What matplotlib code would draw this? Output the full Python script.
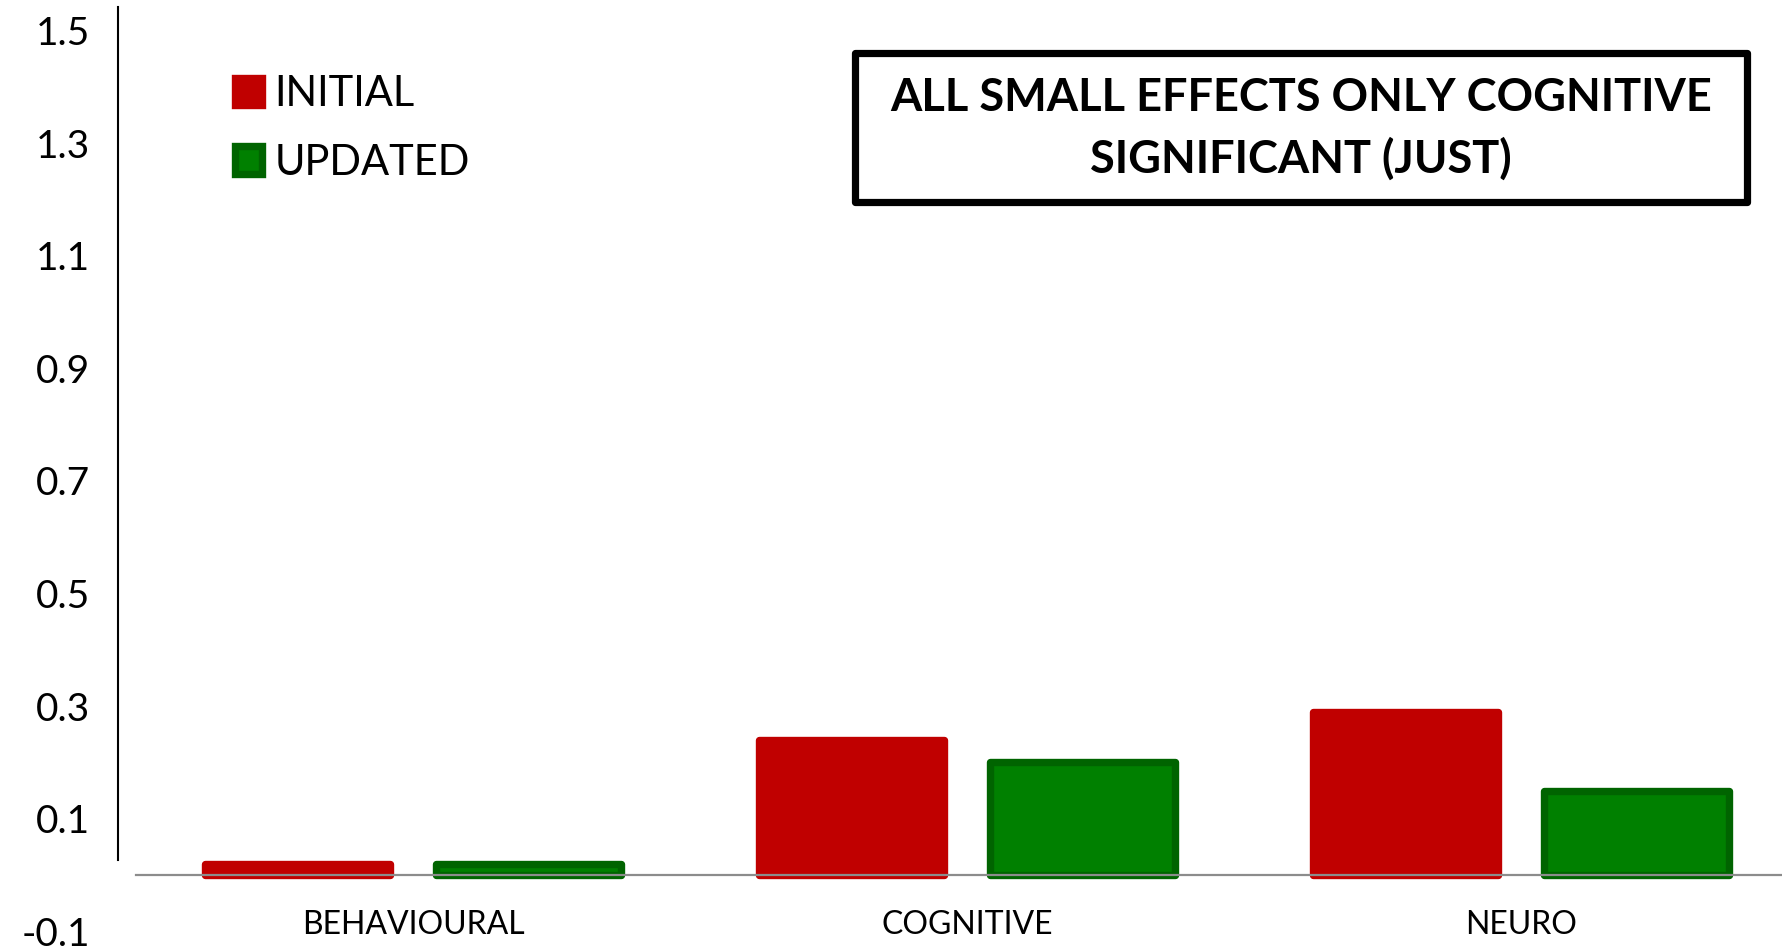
import matplotlib
matplotlib.use("Agg")
import matplotlib.pyplot as plt
import numpy as np
from matplotlib.patches import Patch, Rectangle

# --- Data ---
categories = ["BEHAVIOURAL", "COGNITIVE", "NEURO"]
initial = [0.02, 0.24, 0.29]
updated = [0.02, 0.20, 0.15]
series_labels = ["INITIAL", "UPDATED"]
ytick_values = [-0.1, 0.1, 0.3, 0.5, 0.7, 0.9, 1.1, 1.3, 1.5]
note_text = "ALL SMALL EFFECTS ONLY COGNITIVE\nSIGNIFICANT (JUST)"

plt.rcParams["font.family"] = ["Lato", "DejaVu Sans"]

RED = "#C00000"
GREEN = "#008000"
GREEN_EDGE = "#006400"
BAR_LW = 5.3

W, H = 1783, 949
fig = plt.figure(figsize=(W / 100, H / 100), dpi=100)
ax = fig.add_axes([136 / W, (H - 931.3) / H, 1662 / W, 929.0 / H])

x = np.arange(len(categories))
offset = 0.2085
width = 0.333
ax.bar(x - offset, initial, width, color=RED, edgecolor=RED,
       linewidth=BAR_LW, joinstyle="round")
ax.bar(x + offset, updated, width, color=GREEN, edgecolor=GREEN_EDGE,
       linewidth=BAR_LW, joinstyle="round")

ax.set_xlim(-0.5, 2.5)
ax.set_ylim(-0.1, 1.55)

# Axes styling
ax.spines["top"].set_visible(False)
ax.spines["right"].set_visible(False)
ax.spines["bottom"].set_position(("data", 0))
ax.spines["bottom"].set_color("#8C8C8C")
ax.spines["bottom"].set_linewidth(1.6)
ax.spines["left"].set_position(("outward", 13))
ax.spines["left"].set_bounds(0.027, 1.542)
ax.spines["left"].set_linewidth(1.5)

ax.set_yticks(ytick_values)
ax.set_yticklabels([f"{v:.1f}" for v in ytick_values])
ax.tick_params(axis="y", length=0, pad=20, labelsize=28)
ax.set_xticks(x)
ax.set_xticklabels(categories)
ax.tick_params(axis="x", length=0, pad=25, labelsize=23)

# Legend
handles = [
    Patch(facecolor=RED, edgecolor=RED, linewidth=BAR_LW, joinstyle="round"),
    Patch(facecolor=GREEN, edgecolor=GREEN_EDGE, linewidth=BAR_LW, joinstyle="round"),
]
fig.legend(handles, series_labels, loc="upper left",
           bbox_to_anchor=(235 / W, 1 - 75 / H), frameon=False,
           fontsize=30, handlelength=0.64, handleheight=0.64,
           handletextpad=0.3, labelspacing=0.74, borderpad=0,
           borderaxespad=0)

# Note box
box = Rectangle((855.5 / W, 1 - 201.5 / H), (1747 - 855.5) / W, 149 / H,
                transform=fig.transFigure, facecolor="white",
                edgecolor="black", linewidth=5.2, joinstyle="round")
fig.patches.append(box)
fig.text(1301 / W, 1 - 129 / H, note_text, ha="center", va="center",
         fontsize=32.5, fontweight="bold", linespacing=1.5)

fig.savefig("out.png", dpi=100)
